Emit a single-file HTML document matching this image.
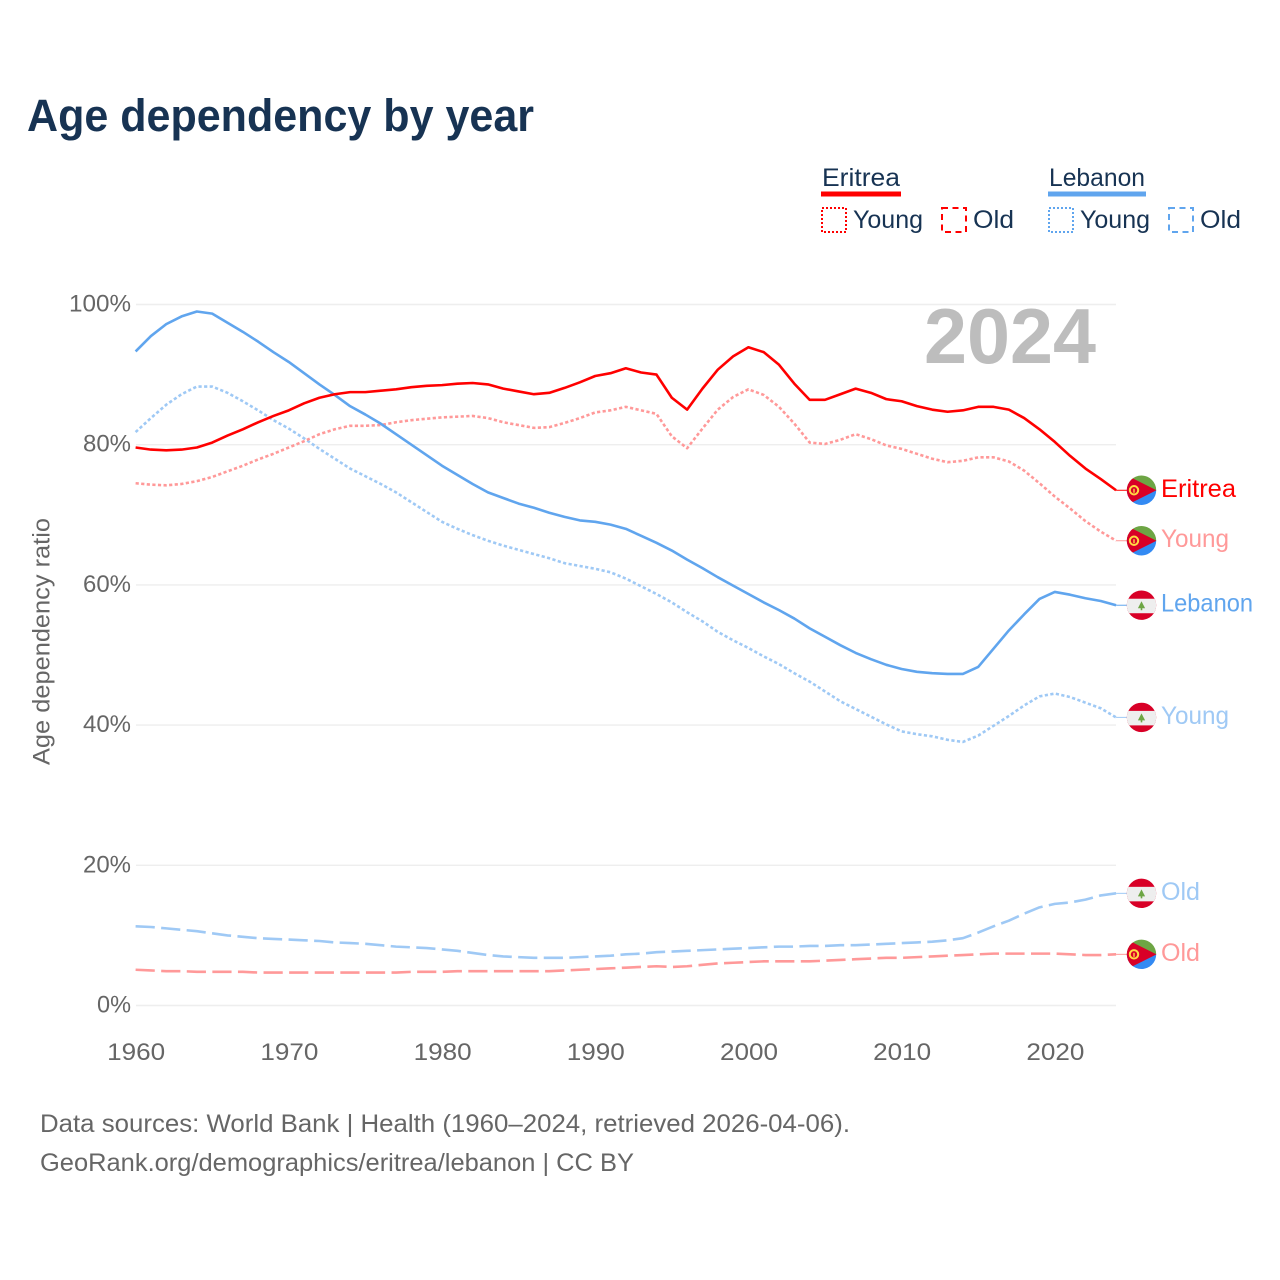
<!DOCTYPE html>
<html lang="en">
<head>
<meta charset="utf-8">
<title>Age dependency by year</title>
<style>
html,body{margin:0;padding:0;background:#fff;width:1280px;height:1280px;overflow:hidden}
svg{display:block}
text{font-family:"Liberation Sans",sans-serif}
</style>
</head>
<body>
<svg id="chart" xmlns="http://www.w3.org/2000/svg" width="1280" height="1280" viewBox="0 0 1280 1280">
  <rect width="1280" height="1280" fill="#fff"/>
  <defs>
    <clipPath id="flag-clip"><circle cx="0" cy="0" r="14.7"/></clipPath>
  </defs>
  <text x="27" y="131" font-size="45" font-weight="700" fill="#173353" textLength="507" lengthAdjust="spacingAndGlyphs">Age dependency by year</text>

  <g>
    <text x="822" y="186" font-size="25" fill="#173353" textLength="78" lengthAdjust="spacingAndGlyphs">Eritrea</text>
    <rect x="821" y="191.500" width="80" height="5" fill="#ff0000"/>
    <rect x="822" y="208" width="24" height="24" fill="none" stroke="#ff0000" stroke-width="2" stroke-dasharray="2 2"/>
    <text x="853" y="228" font-size="25" fill="#173353" textLength="70" lengthAdjust="spacingAndGlyphs">Young</text>
    <rect x="942" y="208" width="24" height="24" fill="none" stroke="#ff0000" stroke-width="2" stroke-dasharray="6 4.500"/>
    <text x="973" y="228" font-size="25" fill="#173353" textLength="41" lengthAdjust="spacingAndGlyphs">Old</text>
    <text x="1049" y="186" font-size="25" fill="#173353" textLength="96" lengthAdjust="spacingAndGlyphs">Lebanon</text>
    <rect x="1048" y="191.500" width="98" height="5" fill="#60a5ee"/>
    <rect x="1049" y="208" width="24" height="24" fill="none" stroke="#60a5ee" stroke-width="2" stroke-dasharray="2 2"/>
    <text x="1080" y="228" font-size="25" fill="#173353" textLength="70" lengthAdjust="spacingAndGlyphs">Young</text>
    <rect x="1169" y="208" width="24" height="24" fill="none" stroke="#60a5ee" stroke-width="2" stroke-dasharray="6 4.500"/>
    <text x="1200" y="228" font-size="25" fill="#173353" textLength="41" lengthAdjust="spacingAndGlyphs">Old</text>
  </g>

  <g id="grid"></g>
  <text x="924" y="363" font-size="78" font-weight="700" fill="#bdbdbd" textLength="172" lengthAdjust="spacingAndGlyphs">2024</text>
  <text transform="translate(49.500,765) rotate(-90)" x="0" y="0" font-size="24" fill="#666" textLength="247" lengthAdjust="spacingAndGlyphs">Age dependency ratio</text>
  <g id="y-ticks"></g>
  <g id="x-ticks"></g>
  <g id="series"></g>
  <g id="ends"></g>

  <text x="40" y="1132" font-size="25" fill="#666" textLength="810" lengthAdjust="spacingAndGlyphs">Data sources: World Bank | Health (1960–2024, retrieved 2026-04-06).</text>
  <text x="40" y="1171" font-size="25" fill="#666" textLength="594" lengthAdjust="spacingAndGlyphs">GeoRank.org/demographics/eritrea/lebanon | CC BY</text>
</svg>
<script>
const firstYear = 1960;
const yTickValues = [0, 20, 40, 60, 80, 100];
const xTickValues = [1960, 1970, 1980, 1990, 2000, 2010, 2020];
const eritreaTotal = [
  79.6, 79.3, 79.2, 79.3, 79.6, 80.3, 81.3, 82.2, 83.2, 84.1,
  84.9, 85.9, 86.7, 87.2, 87.5, 87.5, 87.7, 87.9, 88.2, 88.4,
  88.5, 88.7, 88.8, 88.6, 88.0, 87.6, 87.2, 87.4, 88.1, 88.9,
  89.8, 90.2, 90.9, 90.3, 90.0, 86.7, 85.0, 88.0, 90.7, 92.6,
  93.9, 93.2, 91.4, 88.7, 86.4, 86.4, 87.2, 88.0, 87.4, 86.5,
  86.2, 85.5, 85.0, 84.7, 84.9, 85.4, 85.4, 85.0, 83.8, 82.2,
  80.4, 78.4, 76.6, 75.1, 73.5
];
const eritreaYoung = [
  74.5, 74.3, 74.2, 74.4, 74.8, 75.4, 76.2, 77.0, 77.9, 78.7,
  79.6, 80.5, 81.5, 82.2, 82.7, 82.7, 82.8, 83.2, 83.5, 83.7,
  83.9, 84.0, 84.1, 83.8, 83.2, 82.8, 82.4, 82.5, 83.1, 83.8,
  84.6, 84.9, 85.4, 84.9, 84.4, 81.2, 79.5, 82.3, 85.0, 86.8,
  87.9, 87.1, 85.4, 83.0, 80.3, 80.1, 80.7, 81.5, 80.8, 79.9,
  79.4, 78.7, 78.0, 77.5, 77.7, 78.2, 78.2, 77.6, 76.3, 74.5,
  72.6, 70.9, 69.1, 67.6, 66.3
];
const eritreaOld = [
  5.1, 5.0, 4.9, 4.9, 4.8, 4.8, 4.8, 4.8, 4.7, 4.7,
  4.7, 4.7, 4.7, 4.7, 4.7, 4.7, 4.7, 4.7, 4.8, 4.8,
  4.8, 4.9, 4.9, 4.9, 4.9, 4.9, 4.9, 4.9, 5.0, 5.1,
  5.2, 5.3, 5.4, 5.5, 5.6, 5.5, 5.6, 5.8, 6.0, 6.1,
  6.2, 6.3, 6.3, 6.3, 6.3, 6.4, 6.5, 6.6, 6.7, 6.8,
  6.8, 6.9, 7.0, 7.1, 7.2, 7.3, 7.4, 7.4, 7.4, 7.4,
  7.4, 7.3, 7.2, 7.2, 7.3
];
const lebanonTotal = [
  93.3, 95.5, 97.2, 98.3, 99.0, 98.7, 97.4, 96.1, 94.7, 93.2,
  91.8, 90.2, 88.6, 87.1, 85.5, 84.3, 83.0, 81.5, 80.0, 78.5,
  77.0, 75.7, 74.4, 73.2, 72.4, 71.6, 71.0, 70.3, 69.7, 69.2,
  69.0, 68.6, 68.0, 67.0, 66.0, 64.9, 63.6, 62.4, 61.1, 59.9,
  58.7, 57.5, 56.4, 55.2, 53.8, 52.6, 51.4, 50.3, 49.4, 48.6,
  48.0, 47.6, 47.4, 47.3, 47.3, 48.3, 50.9, 53.5, 55.8, 58.0,
  59.0, 58.6, 58.1, 57.7, 57.1
];
const lebanonYoung = [
  81.8, 83.8, 85.7, 87.2, 88.3, 88.3, 87.4, 86.2, 84.9, 83.5,
  82.3, 80.9, 79.4, 78.0, 76.6, 75.5, 74.4, 73.2, 71.8, 70.4,
  69.0, 68.0, 67.1, 66.3, 65.6, 65.0, 64.4, 63.8, 63.1, 62.7,
  62.3, 61.8, 60.9, 59.8, 58.7, 57.5, 56.1, 54.8, 53.3, 52.1,
  51.0, 49.8, 48.7, 47.4, 46.2, 44.8, 43.4, 42.3, 41.2, 40.1,
  39.1, 38.7, 38.4, 37.9, 37.6, 38.5, 39.9, 41.3, 42.8, 44.1,
  44.5, 44.0, 43.2, 42.4, 41.1
];
const lebanonOld = [
  11.3, 11.2, 11.0, 10.8, 10.6, 10.3, 10.0, 9.8, 9.6, 9.5,
  9.4, 9.3, 9.2, 9.0, 8.9, 8.8, 8.6, 8.4, 8.3, 8.2,
  8.0, 7.8, 7.5, 7.2, 7.0, 6.9, 6.8, 6.8, 6.8, 6.9,
  7.0, 7.1, 7.3, 7.4, 7.6, 7.7, 7.8, 7.9, 8.0, 8.1,
  8.2, 8.3, 8.4, 8.4, 8.5, 8.5, 8.6, 8.6, 8.7, 8.8,
  8.9, 9.0, 9.1, 9.3, 9.6, 10.4, 11.3, 12.1, 13.1, 14.0,
  14.5, 14.7, 15.1, 15.7, 16.0
];
const seriesLabels = ['Eritrea', 'Young', 'Lebanon', 'Young', 'Old', 'Old'];

const NS = 'http://www.w3.org/2000/svg';
const xScale = function (year) { return 135.6 + (year - firstYear) * 15.32; };
const yScale = function (value) { return 1005.5 - value * 7.01; };
const make = function (tag, attrs, parent) {
  const el = document.createElementNS(NS, tag);
  for (const k in attrs) { el.setAttribute(k, attrs[k]); }
  parent.appendChild(el);
  return el;
};

const gridG = document.getElementById('grid');
const yTicksG = document.getElementById('y-ticks');
yTickValues.forEach(function (v) {
  const line = make('line', { x1: 136, x2: 1116, y1: yScale(v), y2: yScale(v), stroke: '#eeeeee', 'stroke-width': 1.4 }, gridG);
  
  
  const label = make('text', { x: 131, y: yScale(v) + 7, 'text-anchor': 'end', 'font-size': 24, fill: '#666', textLength: v === 100 ? 62 : (v === 0 ? 34 : 48), lengthAdjust: 'spacingAndGlyphs' }, yTicksG);
  label.textContent = v + '%';
  
  
});

const xTicksG = document.getElementById('x-ticks');
xTickValues.forEach(function (year) {
  const label = make('text', { x: xScale(year) + 0.6, y: 1060, 'text-anchor': 'middle', 'font-size': 24, fill: '#666', textLength: 58, lengthAdjust: 'spacingAndGlyphs' }, xTicksG);
  label.textContent = String(year);
  
  
});

const DOT = '3.2 2.4';
const DASH = '19.2 6.4';
const allSeries = [
  { key: 'lebanon-old', values: lebanonOld, color: '#9fc9f5', dash: DASH, flag: 'lb', label: seriesLabels[4] },
  { key: 'eritrea-old', values: eritreaOld, color: '#ff9999', dash: DASH, flag: 'er', label: seriesLabels[5] },
  { key: 'lebanon-young', values: lebanonYoung, color: '#9fc9f5', dash: DOT, flag: 'lb', label: seriesLabels[3] },
  { key: 'eritrea-young', values: eritreaYoung, color: '#ff9999', dash: DOT, flag: 'er', label: seriesLabels[1] },
  { key: 'lebanon-total', values: lebanonTotal, color: '#60a5ee', dash: null, flag: 'lb', label: seriesLabels[2] },
  { key: 'eritrea-total', values: eritreaTotal, color: '#ff0000', dash: null, flag: 'er', label: seriesLabels[0] }
];

const drawEritreaFlag = function (g) {
  make('rect', { x: -15, y: -15, width: 30, height: 15, fill: '#6da544' }, g);
  make('rect', { x: -15, y: 0, width: 30, height: 15, fill: '#338af3' }, g);
  make('polygon', { points: '-15,-15 15,0 -15,15', fill: '#d80027' }, g);
  make('circle', { cx: -7.5, cy: 0, r: 4.2, fill: 'none', stroke: '#ffda44', 'stroke-width': 2 }, g);
  make('rect', { x: -8.2, y: -1.5, width: 1.4, height: 4, fill: '#ffda44' }, g);
};
const drawLebanonFlag = function (g) {
  make('rect', { x: -15, y: -15, width: 30, height: 30, fill: '#d80027' }, g);
  make('rect', { x: -15, y: -6.5, width: 30, height: 14.5, fill: '#eeeeee' }, g);
  make('polygon', { points: '0,-4 3.600,3 -3.600,3', fill: '#6da544' }, g);
  make('rect', { x: -0.8, y: 2.5, width: 1.6, height: 2.5, fill: '#6da544' }, g);
};

const seriesG = document.getElementById('series');
const endsG = document.getElementById('ends');
allSeries.forEach(function (s) {
  const d = s.values.map(function (v, i) {
    return (i ? 'L' : 'M') + xScale(firstYear + i).toFixed(2) + ' ' + yScale(v).toFixed(2);
  }).join(' ');
  const attrs = { d: d, fill: 'none', stroke: s.color, 'stroke-width': 2.6, 'stroke-linejoin': 'round' };
  if (s.dash) { attrs['stroke-dasharray'] = s.dash; }
  const path = make('path', attrs, seriesG);
  
  

  const lastValue = s.values[s.values.length - 1];
  const lastY = yScale(lastValue);
  const stub = make('line', { x1: xScale(firstYear + s.values.length - 1), x2: 1127, y1: lastY, y2: lastY, stroke: s.color, 'stroke-width': 1 }, endsG);
  
  

  const flag = make('g', { transform: 'translate(1141.5,' + lastY.toFixed(2) + ')' }, endsG);
  
  
  const inner = make('g', { 'clip-path': 'url(#flag-clip)' }, flag);
  if (s.flag === 'er') { drawEritreaFlag(inner); } else { drawLebanonFlag(inner); }

  const widths = { Eritrea: 75, Young: 68, Lebanon: 92, Old: 39 };
  const label = make('text', { x: 1161, y: lastY + 6.5, 'font-size': 25, fill: s.color, textLength: widths[s.label], lengthAdjust: 'spacingAndGlyphs' }, endsG);
  label.textContent = s.label;
  
  
});
</script>
</body>
</html>
